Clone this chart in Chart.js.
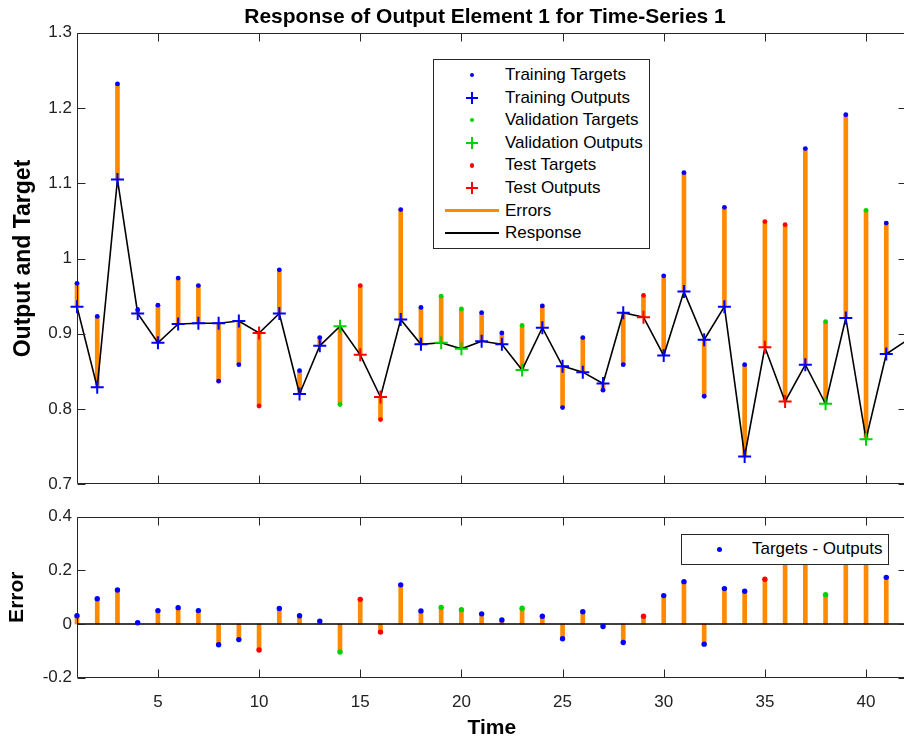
<!DOCTYPE html>
<html>
<head>
<meta charset="utf-8">
<script src="https://cdn.jsdelivr.net/npm/chart.js@4.4.1/dist/chart.umd.min.js"></script>
<style>
html,body{margin:0;padding:0;background:#fff;overflow:hidden;width:904px;height:738px;}
#wrap{position:relative;width:1000px;height:738px;overflow:hidden;background:#fff;}
canvas{position:absolute;left:0;}
#c1{top:0;}
#c2{top:500px;}
.lg{position:absolute;background:#fff;border:1px solid #262626;box-sizing:border-box;}
.lt{position:absolute;font-family:"Liberation Sans",Arial,sans-serif;font-size:17px;color:#000;white-space:nowrap;height:22px;line-height:22px;}
.mk{position:absolute;}
</style>
</head>
<body>
<div id="wrap">
<canvas id="c1" width="970" height="500" style="width:970px;height:500px"></canvas>
<canvas id="c2" width="970" height="238" style="width:970px;height:238px"></canvas>
</div>
<script>
// ---------- DATA ----------
const titleText = 'Response of Output Element 1 for Time-Series 1';
const timeSteps = [1,2,3,4,5,6,7,8,9,10,11,12,13,14,15,16,17,18,19,20,21,22,23,24,25,26,27,28,29,30,31,32,33,34,35,36,37,38,39,40,41,42];
const outputs = [0.936,0.829,1.105,0.927,0.888,0.913,0.914,0.914,0.917,0.901,
                 0.927,0.820,0.884,0.910,0.872,0.816,0.919,0.886,0.888,0.880,
                 0.890,0.886,0.852,0.908,0.857,0.849,0.834,0.928,0.922,0.871,
                 0.956,0.892,0.936,0.737,0.882,0.810,0.859,0.807,0.921,0.760,
                 0.873,0.891];
const targets = [0.967,0.923,1.232,0.932,0.938,0.974,0.964,0.837,0.859,0.804,
                 0.985,0.851,0.895,0.806,0.964,0.786,1.065,0.935,0.950,0.933,
                 0.928,0.901,0.911,0.937,0.802,0.895,0.825,0.859,0.951,0.977,
                 1.114,0.817,1.068,0.859,1.049,1.045,1.146,0.916,1.191,1.064,
                 1.047,null];
const subsets = ['train','train','train','train','train','train','train','train','train','test',
                 'train','train','train','val','test','test','train','train','val','val',
                 'train','train','val','train','train','train','train','train','test','train',
                 'train','train','train','train','test','test','train','val','train','val',
                 'train','none'];
const xTickValues = [5,10,15,20,25,30,35,40];
const yTickValuesResponse = [0.7,0.8,0.9,1,1.1,1.2,1.3];
const yTickValuesError = [-0.2,0,0.2,0.4];
const legendLabels = ['Training Targets','Training Outputs','Validation Targets','Validation Outputs','Test Targets','Test Outputs','Errors','Response'];
const errorLegendLabel = 'Targets - Outputs';

// ---------- STYLE ----------
const FONT = '"Liberation Sans", Arial, sans-serif';
const COLORS = {train:'#0000ff', val:'#00d400', test:'#ff0000'};
const ORANGE = '#ff8a00';
const AXIS = '#262626';
const SETS = ['train','val','test'];

const errors = targets.map((t,i)=> t === null ? null : t - outputs[i]);
function pts(arr, set){
  return timeSteps.map((t,i)=> (subsets[i]===set && arr[i] !== null) ? {x:t, y:arr[i]} : null).filter(Boolean);
}
function setTicks(values){ return s => { s.ticks = values.map(v=>({value:v})); }; }
function fmt(v){ return String(+Number(v).toFixed(1)); }

const boxPlugin = {
  id:'boxTicks',
  afterDraw(chart, args, opts){
    const {ctx, chartArea:a, scales:{x,y}} = chart;
    const L = Math.round(a.left)+0.5, R = Math.round(a.right)-0.5, T = Math.round(a.top)+0.5, B = Math.round(a.bottom)-0.5;
    ctx.save();
    ctx.strokeStyle = AXIS; ctx.lineWidth = 1;
    ctx.beginPath();
    ctx.rect(L, T, R-L, B-T);
    const tl = 8;
    opts.xt.forEach(v=>{
      const p = Math.round(x.getPixelForValue(v))+0.5;
      ctx.moveTo(p, B); ctx.lineTo(p, B-tl);
      ctx.moveTo(p, T); ctx.lineTo(p, T+tl);
    });
    opts.yt.forEach(v=>{
      const p = Math.round(y.getPixelForValue(v))+0.5;
      ctx.moveTo(L, p); ctx.lineTo(L+tl, p);
      ctx.moveTo(R, p); ctx.lineTo(R-tl, p);
    });
    ctx.stroke();
    ctx.restore();
  }
};

const common = { responsive:false, animation:false, events:[] };

// ---------- TOP CHART ----------
const topSets = [
  {type:'bar', data: timeSteps.map((t,i)=> targets[i]===null ? null : ({x:t, y:[outputs[i], targets[i]]})).filter(Boolean), backgroundColor:ORANGE, barThickness:4, order:5, clip:false},
  {type:'line', data: timeSteps.map((t,i)=>({x:t, y:outputs[i]})), borderColor:'#000', borderWidth:1.6, pointRadius:0, tension:0, order:4, fill:false},
];
SETS.forEach(s=>{
  topSets.push({type:'scatter', data:pts(outputs,s), pointStyle:'cross', pointRadius:6.5, borderWidth:2, borderColor:COLORS[s], backgroundColor:COLORS[s], order:3, clip:false});
  topSets.push({type:'scatter', data:pts(targets,s), pointStyle:'circle', pointRadius:2.4, borderWidth:0, backgroundColor:COLORS[s], order:2, clip:false});
});

new Chart(document.getElementById('c1'), {
  type:'scatter',
  data:{datasets: topSets},
  options:Object.assign({}, common, {
    layout:{padding:{left:0, right:0, top:0, bottom:0}},
    plugins:{
      legend:{display:false}, tooltip:{enabled:false},
      title:{display:true, fullSize:true, text:titleText, color:'#000', font:{family:FONT, size:21, weight:'bold'}, padding:{top:4.3, bottom:3.2}},
      boxTicks:{xt:xTickValues, yt:yTickValuesResponse}
    },
    scales:{
      x:{type:'linear', min:1, max:42, offset:false, grid:{display:false}, border:{display:false},
         ticks:{display:false}, afterBuildTicks:setTicks(xTickValues),
         afterFit:s=>{s.height=15.7; s.paddingLeft=0; s.paddingRight=0;}},
      y:{type:'linear', min:0.7, max:1.3, grid:{display:false, drawTicks:false}, border:{display:false},
         ticks:{font:{family:FONT, size:17}, color:'#222', padding:5, callback:fmt},
         afterBuildTicks:setTicks(yTickValuesResponse), afterFit:s=>{s.width=77;},
         title:{display:true, text:'Output and Target', color:'#000', font:{family:FONT, size:23, weight:'bold'}, padding:{top:10, bottom:0}}},
      yRight:{type:'linear', position:'right', min:0.7, max:1.3, grid:{display:false, drawTicks:false}, border:{display:false},
         ticks:{display:false}, afterFit:s=>{s.width=63.5;}}
    }
  }),
  plugins:[boxPlugin]
});

// ---------- ERROR CHART ----------
const botSets = [
  {type:'bar', data: timeSteps.map((t,i)=> errors[i]===null ? null : ({x:t, y:[0, errors[i]]})).filter(Boolean), backgroundColor:ORANGE, barThickness:4, order:5, clip:false},
  {type:'line', data:[{x:timeSteps[0], y:0},{x:timeSteps[timeSteps.length-1], y:0}], borderColor:'#000', borderWidth:1.6, pointRadius:0, order:4},
];
SETS.forEach(s=>{
  botSets.push({type:'scatter', data:pts(errors,s), pointStyle:'circle', pointRadius:2.7, borderWidth:0, backgroundColor:COLORS[s], order:2, clip:false});
});

new Chart(document.getElementById('c2'), {
  type:'scatter',
  data:{datasets: botSets},
  options:Object.assign({}, common, {
    layout:{padding:{left:0, right:0, top:16.7, bottom:0}},
    plugins:{
      legend:{display:false}, tooltip:{enabled:false},
      boxTicks:{xt:xTickValues, yt:yTickValuesError}
    },
    scales:{
      x:{type:'linear', min:1, max:42, offset:false, grid:{display:false, drawTicks:false}, border:{display:false},
         ticks:{font:{family:FONT, size:17}, color:'#222', padding:14, maxRotation:0},
         afterBuildTicks:setTicks(xTickValues),
         afterFit:s=>{s.height=60.3; s.paddingLeft=0; s.paddingRight=0;},
         title:{display:true, text:'Time', color:'#000', font:{family:FONT, size:21, weight:'bold'}, padding:{top:0, bottom:-3}}},
      y:{type:'linear', min:-0.2, max:0.4, grid:{display:false, drawTicks:false}, border:{display:false},
         ticks:{font:{family:FONT, size:17}, color:'#222', padding:5, callback:fmt},
         afterBuildTicks:setTicks(yTickValuesError), afterFit:s=>{s.width=77;},
         title:{display:true, text:'Error', color:'#000', font:{family:FONT, size:21, weight:'bold'}, padding:{top:5, bottom:0}}},
      yRight:{type:'linear', position:'right', min:-0.2, max:0.4, grid:{display:false, drawTicks:false}, border:{display:false},
         ticks:{display:false}, afterFit:s=>{s.width=63.5;}}
    }
  }),
  plugins:[boxPlugin]
});

// ---------- LEGENDS (HTML, real text) ----------
function el(cls, style, text){
  const d = document.createElement('div');
  d.className = cls; Object.assign(d.style, style);
  if (text) d.textContent = text;
  return d;
}
function dot(cx, cy, r, color){
  return el('mk', {left:(cx-r)+'px', top:(cy-r)+'px', width:(2*r)+'px', height:(2*r)+'px', borderRadius:'50%', background:color});
}
function plus(cx, cy, color){
  const f = document.createDocumentFragment();
  f.appendChild(el('mk', {left:(cx-6)+'px', top:(cy-1)+'px', width:'12px', height:'2px', background:color}));
  f.appendChild(el('mk', {left:(cx-1)+'px', top:(cy-6)+'px', width:'2px', height:'12px', background:color}));
  return f;
}
function hline(x1, x2, cy, h, color){
  return el('mk', {left:x1+'px', top:(cy-h/2)+'px', width:(x2-x1)+'px', height:h+'px', background:color});
}

const wrap = document.getElementById('wrap');
wrap.appendChild(el('lg', {left:'433px', top:'59px', width:'217px', height:'190px'}));
const legKinds = [['dot','train'],['plus','train'],['dot','val'],['plus','val'],['dot','test'],['plus','test'],['err',null],['resp',null]];
legKinds.forEach((k,i)=>{
  const cy = 75 + i*22.6;
  if (k[0]==='dot') wrap.appendChild(dot(472, cy, 2.2, COLORS[k[1]]));
  else if (k[0]==='plus') wrap.appendChild(plus(472, cy, COLORS[k[1]]));
  else if (k[0]==='err') wrap.appendChild(hline(445, 499, cy, 3.5, ORANGE));
  else wrap.appendChild(hline(445, 499, cy, 1.6, '#000'));
  wrap.appendChild(el('lt', {left:'505px', top:(cy-11)+'px'}, legendLabels[i]));
});
wrap.appendChild(el('lg', {left:'681px', top:'534px', width:'208px', height:'31px'}));
wrap.appendChild(dot(719, 549, 2.5, COLORS.train));
wrap.appendChild(el('lt', {left:'752px', top:(549-11)+'px'}, errorLegendLabel));
</script>
</body>
</html>
